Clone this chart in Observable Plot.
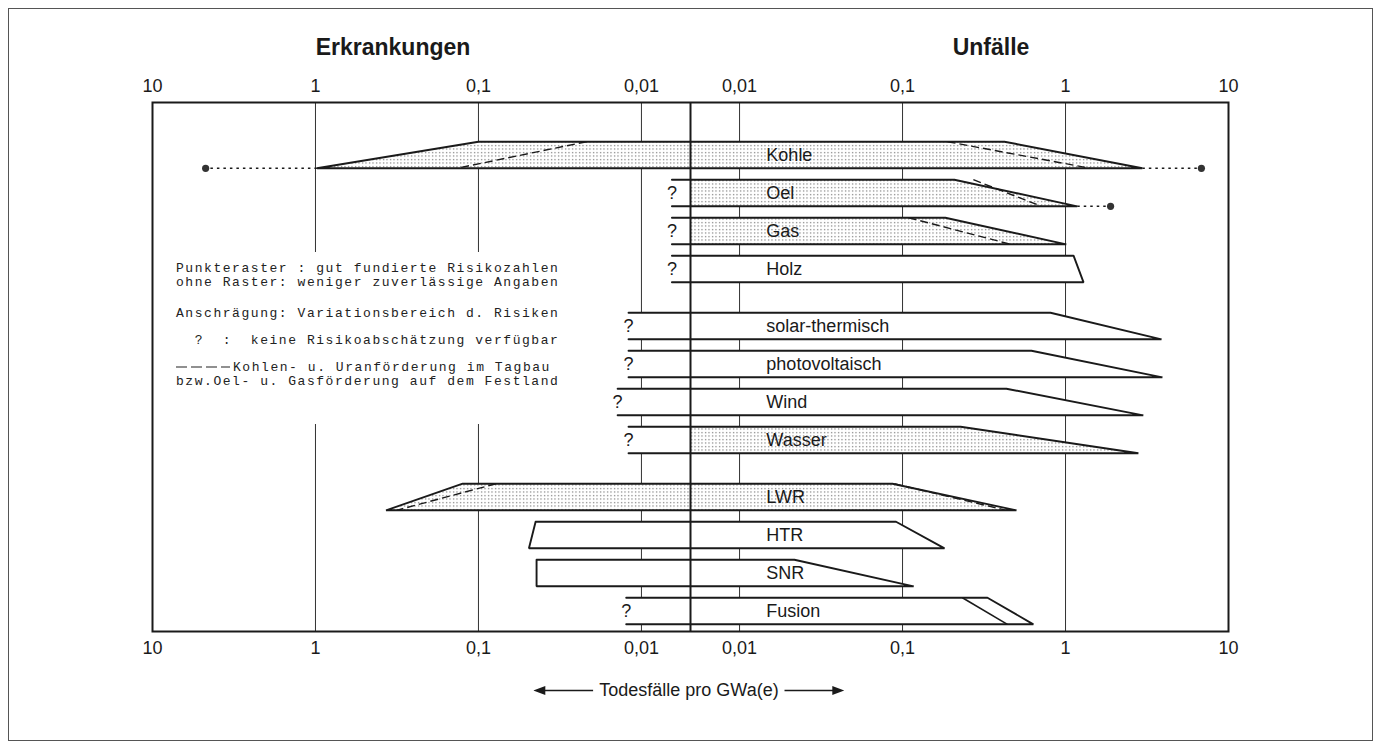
<!DOCTYPE html>
<html>
<head>
<meta charset="utf-8">
<script src="https://cdn.jsdelivr.net/npm/d3@7"></script>
<script src="https://cdn.jsdelivr.net/npm/@observablehq/plot@0.6"></script>
<style>
html,body{margin:0;padding:0;background:#fff;}
#wrap{position:relative;width:1381px;height:749px;overflow:hidden;font-family:"Liberation Sans",Arial,sans-serif;color:#1a1a1a;}
#wrap svg.plot{position:absolute;left:0;top:0;}
#rahmen{position:absolute;left:8px;top:8px;width:1363px;height:731px;border:1.5px solid #555;pointer-events:none;}
.titel{position:absolute;top:33px;font-weight:bold;font-size:23px;line-height:28px;transform:translateX(-50%);white-space:nowrap;}
#legende{position:absolute;left:166px;top:252px;width:404px;height:172px;background:#fff;font-family:"Liberation Mono","DejaVu Sans Mono",monospace;font-size:13px;letter-spacing:1.55px;color:#222;}
.zeile{position:absolute;left:10px;white-space:pre;line-height:13px;transform:translateY(-50%);}
.striche{display:inline-block;width:54px;height:1.5px;vertical-align:middle;margin-right:3px;background:repeating-linear-gradient(to right,#222 0 11px,transparent 11px 15px);}
#caption{position:absolute;left:689px;top:690px;transform:translate(-50%,-50%);display:flex;align-items:center;gap:6px;font-size:18px;white-space:nowrap;}
</style>
</head>
<body>
<div id="wrap">
  <div id="rahmen"></div>
</div>
<script>
// ---------- Daten ----------
const energien = ["Kohle","Oel","Gas","Holz","solar-thermisch","photovoltaisch","Wind","Wasser","LWR","HTR","SNR","Fusion"];
const gruppen  = ["fossil","fossil","fossil","fossil","regenerativ","regenerativ","regenerativ","regenerativ","nuklear","nuklear","nuklear","nuklear"];
// Erkrankungen (Todesfälle pro GWa(e)), obere / untere Kante; null = keine Risikoabschätzung (?)
const erkrankungOben  = [0.1, null, null, null, null, null, null, null, 0.125, 0.0446, 0.044, null];
const erkrankungUnten = [0.98, null, null, null, null, null, null, null, 0.369, 0.049, 0.044, null];
// offenes Ende der Balken ohne Abschätzung (Erkrankungsseite)
const offenAb = [null, 0.0065, 0.0065, 0.0065, 0.012, 0.012, 0.014, 0.012, null, null, null, 0.0124];
// Unfälle, obere / untere Kante
const unfallOben  = [0.422, 0.208, 0.183, 1.12, 0.809, 0.618, 0.434, 0.227, 0.0867, 0.0912, 0.0217, 0.332];
const unfallUnten = [2.96, 1.18, 1.01, 1.29, 3.88, 3.93, 3.0, 2.8, 0.5, 0.181, 0.117, 0.635];
// Punkteraster: gut fundierte Risikozahlen
const punktraster = [true, true, true, false, false, false, false, true, true, false, false, false];

// gestrichelt: Kohlen- u. Uranförderung im Tagbau bzw. Oel- u. Gasförderung auf dem Festland
const strichEnergie = ["Kohle","Kohle","Oel","Gas","LWR","LWR"];
const strichSeite   = ["E","U","U","U","E","U"];
const strichOben    = [0.0217, 0.189, 0.272, 0.109, 0.078, 0.0891];
const strichUnten   = [0.136, 1.42, 0.711, 0.46, 0.318, 0.434];

// punktierte Verlängerung bis Maximalwert
const punktEnergie = ["Kohle","Kohle","Oel"];
const punktSeite   = ["E","U","U"];
const punktWert    = [4.72, 6.82, 1.89];

// zweite Anschrägung bei Fusion
const innenEnergie = ["Fusion"];
const innenOben    = [0.233];
const innenUnten   = [0.44];

// Achsen
const tickWerte = [10, 1, 0.1, 0.01];
const tickTexte = ["10", "1", "0,1", "0,01"];
const gitterWerte = [1, 0.1, 0.01];

// ---------- Aufbereitung ----------
const C0 = 0.005;                          // Wert an der Mittellinie
const pos = (v, seite) => seite === "E" ? -(Math.log10(v) - Math.log10(C0)) : (Math.log10(v) - Math.log10(C0));
const pMax = pos(10, "U");
const gIdx = Array.from(new Set(gruppen));
const reihe = energien.map((e, i) => i + 0.5 * gIdx.indexOf(gruppen[i]));
const idx = name => energien.indexOf(name);
const H2 = 0.35;

const weiss = [], raster = [], umriss = [], fragen = [], beschriftung = [];
energien.forEach((name, i) => {
  const r = reihe[i], top = r - H2, bot = r + H2;
  const zu = erkrankungOben[i] != null;
  const xLT = zu ? pos(erkrankungOben[i], "E") : pos(offenAb[i], "E");
  const xLB = zu ? pos(erkrankungUnten[i], "E") : pos(offenAb[i], "E");
  const xRT = pos(unfallOben[i], "U"), xRB = pos(unfallUnten[i], "U");
  const poly = [[xLT, top], [xRT, top], [xRB, bot], [xLB, bot]];
  poly.forEach(([x, y]) => weiss.push({name, x, y}));
  if (punktraster[i]) {
    const pl = zu ? poly : [[0, top], [xRT, top], [xRB, bot], [0, bot]];
    pl.forEach(([x, y]) => raster.push({name, x, y}));
  }
  (zu ? [...poly, poly[0]] : poly).forEach(([x, y]) => umriss.push({name, x, y}));
  if (!zu) fragen.push({x: xLT, y: r});
  beschriftung.push({name, y: r});
});

const striche = strichEnergie.map((e, k) => {
  const r = reihe[idx(e)];
  return {x1: pos(strichOben[k], strichSeite[k]), y1: r - H2, x2: pos(strichUnten[k], strichSeite[k]), y2: r + H2};
});
const innen = innenEnergie.map((e, k) => {
  const r = reihe[idx(e)];
  return {x1: pos(innenOben[k], "U"), y1: r - H2, x2: pos(innenUnten[k], "U"), y2: r + H2};
});
const punkte = punktEnergie.map((e, k) => {
  const i = idx(e), r = reihe[i];
  const ecke = punktSeite[k] === "E" ? pos(erkrankungUnten[i], "E") : pos(unfallUnten[i], "U");
  return {x1: ecke, x2: pos(punktWert[k], punktSeite[k]), y: r + H2};
});
const ticks = [
  ...tickWerte.map((v, k) => ({p: pos(v, "E"), t: tickTexte[k]})),
  ...tickWerte.map((v, k) => ({p: pos(v, "U"), t: tickTexte[k]}))
];
const gitter = [...gitterWerte.map(v => pos(v, "E")), ...gitterWerte.map(v => pos(v, "U"))];
const labelX = pos(0.0146, "U");

const ink = "#1a1a1a";
const chart = Plot.plot({
  width: 1381, height: 749,
  marginLeft: 152, marginRight: 153, marginTop: 102, marginBottom: 118,
  x: {domain: [-pMax, pMax], axis: null},
  y: {domain: [-1.3816, 12.539], reverse: true, axis: null},
  style: {fontFamily: '"Liberation Sans", Arial, sans-serif', fontSize: "18px", color: ink, background: "transparent"},
  marks: [
    Plot.ruleX(gitter, {x: d => d, stroke: "#333", strokeWidth: 1}),
    Plot.line(weiss, {x: "x", y: "y", z: "name", curve: "linear-closed", fill: "white", stroke: "none"}),
    Plot.line(raster, {x: "x", y: "y", z: "name", curve: "linear-closed", fill: "url(#punkte)", stroke: "none"}),
    Plot.link(striche, {x1: "x1", y1: "y1", x2: "x2", y2: "y2", stroke: ink, strokeWidth: 1.4, strokeDasharray: "8,4"}),
    Plot.link(innen, {x1: "x1", y1: "y1", x2: "x2", y2: "y2", stroke: ink, strokeWidth: 1.6}),
    Plot.line(umriss, {x: "x", y: "y", z: "name", stroke: ink, strokeWidth: 1.9, strokeLinejoin: "miter"}),
    Plot.link(punkte, {x1: "x1", y1: "y", x2: "x2", y2: "y", stroke: ink, strokeWidth: 1.6, strokeDasharray: "2.5,4"}),
    Plot.dot(punkte, {x: "x2", y: "y", r: 3.6, fill: "#333", stroke: "none"}),
    Plot.ruleX([0], {stroke: ink, strokeWidth: 2}),
    Plot.frame({stroke: ink, strokeWidth: 2}),
    Plot.text(beschriftung, {x: () => labelX, y: "y", text: "name", textAnchor: "start", fontSize: 18, fill: ink}),
    Plot.text(fragen, {x: "x", y: "y", text: () => "?", fontSize: 18, fill: ink}),
    Plot.text(ticks, {x: "p", frameAnchor: "top", lineAnchor: "middle", dy: -16, text: "t", fontSize: 18, fill: ink}),
    Plot.text(ticks, {x: "p", frameAnchor: "bottom", lineAnchor: "middle", dy: 17, text: "t", fontSize: 18, fill: ink})
  ]
});
chart.classList.add("plot");

// Punkteraster-Muster
const defs = d3.select(chart).insert("defs", ":first-child");
const pat = defs.append("pattern").attr("id", "punkte").attr("patternUnits", "userSpaceOnUse").attr("width", 3.5).attr("height", 3.5);
pat.append("rect").attr("width", 3.5).attr("height", 3.5).attr("fill", "#fff");
pat.append("rect").attr("x", 1).attr("y", 1).attr("width", 1.1).attr("height", 1.1).attr("fill", "#555");

const wrap = document.getElementById("wrap");
wrap.insertBefore(chart, wrap.firstChild);

// Titel
[["Erkrankungen", 393], ["Unfälle", 991]].forEach(([t, x]) => {
  const d = document.createElement("div");
  d.className = "titel"; d.style.left = x + "px"; d.textContent = t;
  wrap.appendChild(d);
});

// Legende
const legendeZeilen = [
  ["Punkteraster : gut fundierte Risikozahlen", 16],
  ["ohne Raster: weniger zuverlässige Angaben", 30],
  ["Anschrägung: Variationsbereich d. Risiken", 61],
  ["  ?  :  keine Risikoabschätzung verfügbar", 88],
  ["Kohlen- u. Uranförderung im Tagbau", 115, true],
  ["bzw.Oel- u. Gasförderung auf dem Festland", 129]
];
const leg = document.createElement("div");
leg.id = "legende";
legendeZeilen.forEach(([t, y, strich]) => {
  const z = document.createElement("div");
  z.className = "zeile"; z.style.top = y + "px";
  if (strich) { const s = document.createElement("span"); s.className = "striche"; z.appendChild(s); }
  z.appendChild(document.createTextNode(t));
  leg.appendChild(z);
});
wrap.appendChild(leg);

// Achsenbeschriftung unten
const pfeil = links => `<svg width="60" height="12" viewBox="0 0 60 12">` +
  (links ? `<line x1="10" y1="6" x2="60" y2="6" stroke="${ink}" stroke-width="1.6"/><polygon points="0,6 12,1.5 12,10.5" fill="${ink}"/>`
         : `<line x1="0" y1="6" x2="50" y2="6" stroke="${ink}" stroke-width="1.6"/><polygon points="60,6 48,1.5 48,10.5" fill="${ink}"/>`) + `</svg>`;
const cap = document.createElement("div");
cap.id = "caption";
cap.innerHTML = pfeil(true) + "<span>Todesfälle pro GWa(e)</span>" + pfeil(false);
wrap.appendChild(cap);
</script>
</body>
</html>
